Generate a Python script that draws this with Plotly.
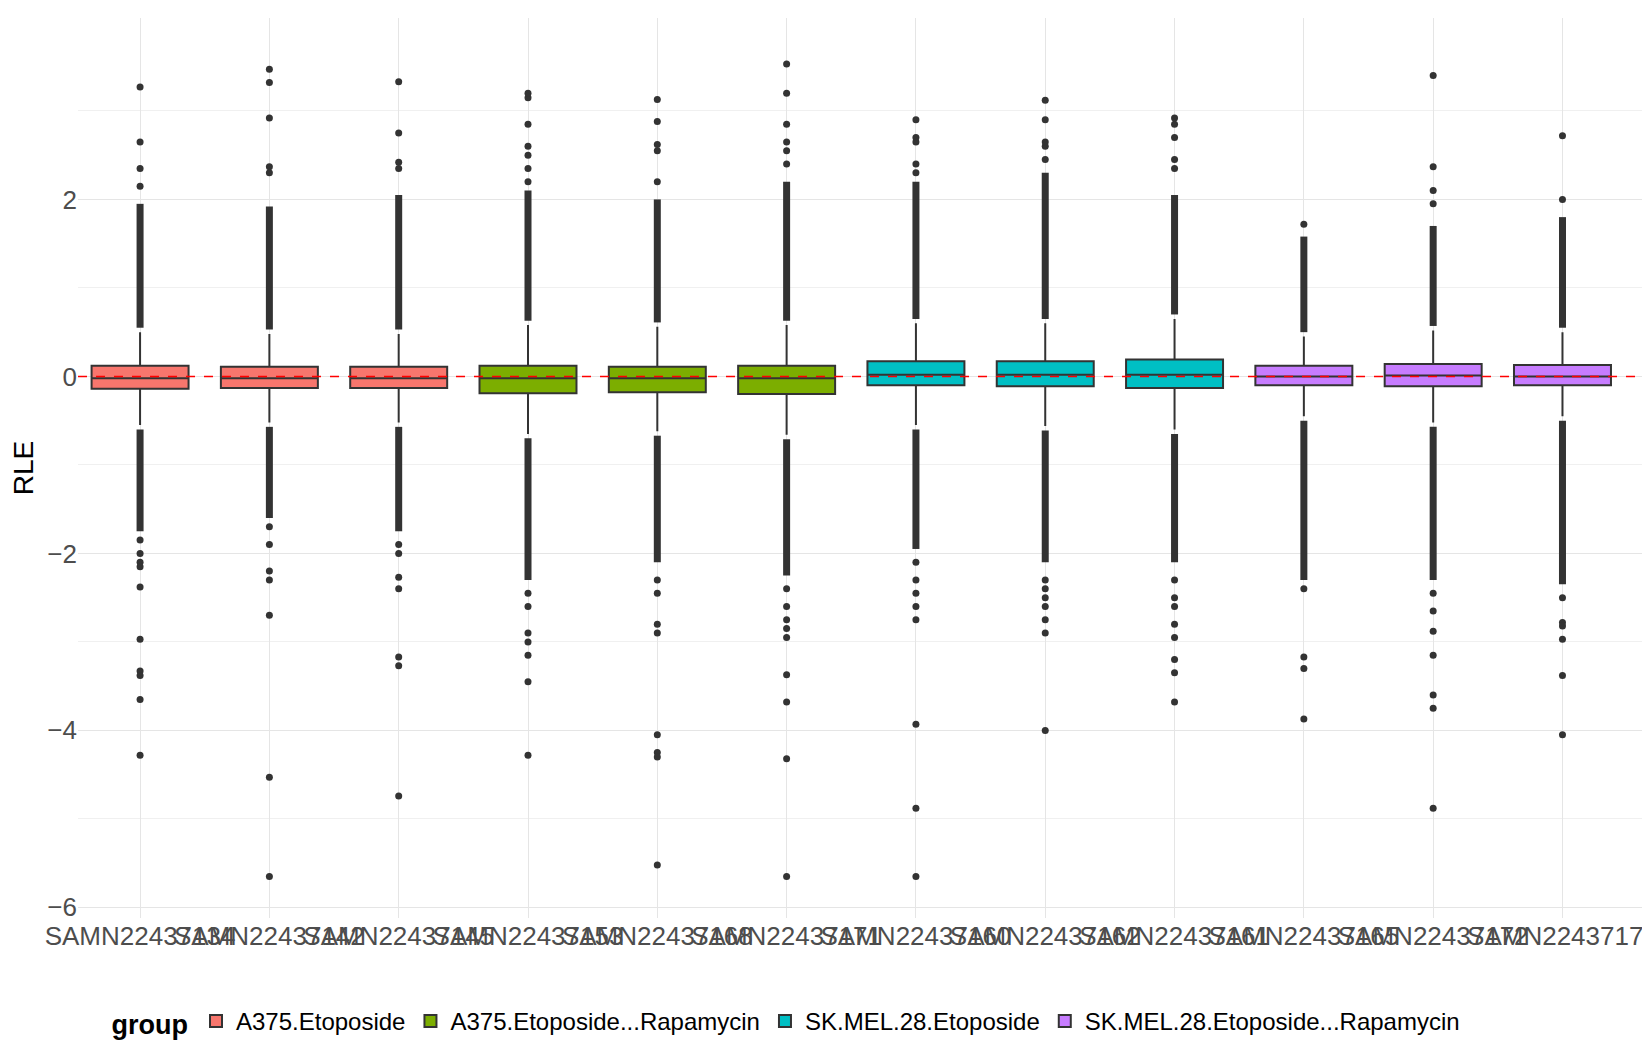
import plotly.graph_objects as go

samples = ["SAMN22437134", "SAMN22437142", "SAMN22437145", "SAMN22437153",
           "SAMN22437168", "SAMN22437171", "SAMN22437160", "SAMN22437162",
           "SAMN22437161", "SAMN22437165", "SAMN22437172", "SAMN22437174"]
groups = ["A375.Etoposide"] * 3 + ["A375.Etoposide...Rapamycin"] * 3 + \
         ["SK.MEL.28.Etoposide"] * 3 + ["SK.MEL.28.Etoposide...Rapamycin"] * 3
group_colors = {"A375.Etoposide": "#F8766D", "A375.Etoposide...Rapamycin": "#7CAE00",
                "SK.MEL.28.Etoposide": "#00BFC4", "SK.MEL.28.Etoposide...Rapamycin": "#C77CFF"}

q1 = [-0.14, -0.13, -0.13, -0.19, -0.18, -0.20, -0.10, -0.11, -0.13, -0.10, -0.11, -0.10]
med = [-0.02, -0.02, -0.02, -0.02, -0.02, -0.02, 0.02, 0.02, 0.02, 0.0, 0.01, 0.0]
q3 = [0.12, 0.11, 0.11, 0.12, 0.11, 0.12, 0.17, 0.17, 0.19, 0.12, 0.14, 0.13]
lo_whisk = [-0.55, -0.52, -0.52, -0.65, -0.62, -0.66, -0.55, -0.56, -0.60, -0.45, -0.52, -0.45]
hi_whisk = [0.50, 0.48, 0.48, 0.58, 0.56, 0.58, 0.60, 0.60, 0.65, 0.45, 0.52, 0.50]
# extent of the densely packed outlier runs
dense_hi = [1.95, 1.92, 2.05, 2.10, 2.00, 2.20, 2.20, 2.30, 2.05, 1.58, 1.70, 1.80]
dense_lo = [-1.75, -1.60, -1.75, -2.30, -2.10, -2.25, -1.95, -2.10, -2.10, -2.30, -2.30, -2.35]
sparse = [
    [2.15, 2.35, 2.65, 3.27, -1.85, -2.0, -2.1, -2.15, -2.38, -2.97, -3.33, -3.38, -3.65, -4.28],
    [2.3, 2.37, 2.92, 3.32, 3.47, -1.7, -1.9, -2.2, -2.3, -2.7, -4.53, -5.65],
    [2.35, 2.42, 2.75, 3.33, -1.9, -2.0, -2.27, -2.4, -3.17, -3.27, -4.74],
    [2.2, 2.35, 2.5, 2.6, 2.85, 3.15, 3.2, -2.45, -2.6, -2.9, -3.0, -3.15, -3.45, -4.28],
    [2.2, 2.55, 2.62, 2.88, 3.13, -2.3, -2.45, -2.8, -2.9, -4.05, -4.25, -4.3, -5.52],
    [2.4, 2.55, 2.65, 2.85, 3.2, 3.53, -2.4, -2.6, -2.75, -2.85, -2.95, -3.37, -3.68, -4.32, -5.65],
    [2.3, 2.4, 2.65, 2.7, 2.9, -2.1, -2.3, -2.45, -2.6, -2.75, -3.93, -4.88, -5.65],
    [2.45, 2.6, 2.65, 2.9, 3.12, -2.3, -2.4, -2.5, -2.6, -2.75, -2.9, -4.0],
    [2.35, 2.45, 2.7, 2.85, 2.92, -2.3, -2.5, -2.6, -2.8, -2.95, -3.2, -3.35, -3.68],
    [1.72, -2.4, -3.17, -3.3, -3.87],
    [1.95, 2.1, 2.37, 3.4, -2.45, -2.65, -2.88, -3.15, -3.6, -3.75, -4.88],
    [2.0, 2.72, -2.5, -2.78, -2.82, -2.97, -3.38, -4.05],
]

fig = go.Figure()
dark = "#333333"

# dense outlier runs drawn as thick segments
for i, s in enumerate(samples):
    fig.add_trace(go.Scatter(x=[s, s], y=[hi_whisk[i] + 0.05, dense_hi[i]], mode="lines",
                             line=dict(color=dark, width=7), showlegend=False, hoverinfo="skip"))
    fig.add_trace(go.Scatter(x=[s, s], y=[lo_whisk[i] - 0.05, dense_lo[i]], mode="lines",
                             line=dict(color=dark, width=7), showlegend=False, hoverinfo="skip"))
    fig.add_trace(go.Scatter(x=[s] * len(sparse[i]), y=sparse[i], mode="markers",
                             marker=dict(color=dark, size=7), showlegend=False, hoverinfo="skip"))

seen = set()
for i, s in enumerate(samples):
    g = groups[i]
    fig.add_trace(go.Box(x=[s], q1=[q1[i]], median=[med[i]], q3=[q3[i]],
                         lowerfence=[lo_whisk[i]], upperfence=[hi_whisk[i]],
                         name=g, legendgroup=g, showlegend=g not in seen,
                         fillcolor=group_colors[g], line=dict(color=dark, width=2),
                         whiskerwidth=0, boxpoints=False, width=0.75))
    seen.add(g)

fig.add_hline(y=0, line=dict(color="red", dash="dash", width=1.5))

fig.update_layout(
    width=1650, height=1050, plot_bgcolor="white", paper_bgcolor="white",
    font=dict(family="Liberation Sans, Arial", size=26, color="#4d4d4d"),
    margin=dict(l=70, r=0, t=10, b=140),
    boxmode="overlay",
    legend=dict(orientation="h", x=0.02, y=-0.09, xanchor="left", yanchor="top",
                title=dict(text="<b>group</b>", font=dict(color="black", size=27)),
                font=dict(color="black", size=24)),
    xaxis=dict(categoryorder="array", categoryarray=samples, range=[-0.48, 11.7],
               showgrid=True, gridcolor="#e5e5e5", tickfont=dict(size=26), ticks="",
               tickangle=0),
    yaxis=dict(title=dict(text="RLE", font=dict(color="black", size=28)),
               range=[-6.12, 4.05], tickvals=[-6, -4, -2, 0, 2],
               showgrid=True, gridcolor="#e5e5e5", zeroline=False,
               minor=dict(tickvals=[-5, -3, -1, 1, 3], showgrid=True, gridcolor="#f0f0f0")),
)
fig.write_html("out.html")
